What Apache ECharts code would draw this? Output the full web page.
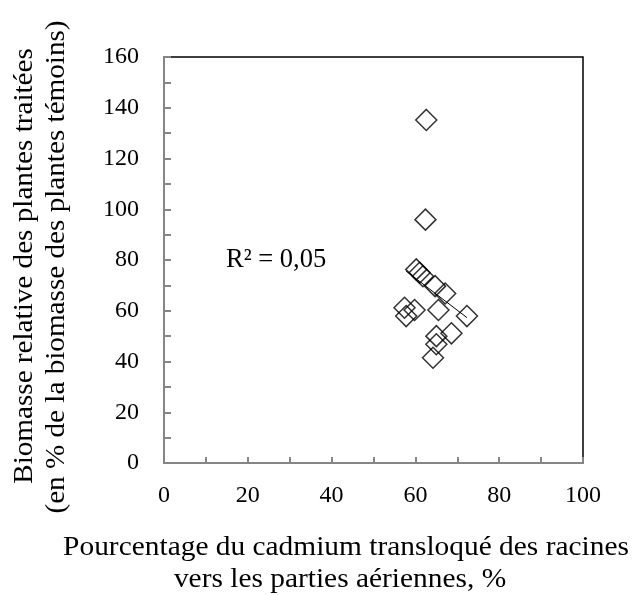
<!DOCTYPE html>
<html>
<head>
<meta charset="utf-8">
<script src="https://cdn.jsdelivr.net/npm/echarts@6/dist/echarts.min.js"></script>
<style>
html, body {margin: 0; padding: 0; background: #fff;}
#chart {width: 642px; height: 595px;}
</style>
</head>
<body>
<div id="chart"></div>
<script>
// pourcentage de Cd transloqué (x) et biomasse relative (y)
var pct_cd = [62.6, 62.4, 60.2, 61.0, 61.8, 64.7, 67.1, 57.4, 57.8, 59.8, 65.5, 72.3, 65.0, 68.6, 65.0, 64.2];
var biomasse = [135.2, 95.9, 76.3, 75.0, 73.6, 69.7, 66.8, 61.2, 57.9, 60.3, 60.3, 57.9, 50.0, 51.1, 46.8, 41.5];
var trend_x = [57.8, 72.3];
var trend_y = [75.6, 57.3];
var r2_label = "R² = 0,05";

var font = "'Liberation Serif', 'Times New Roman', serif";

var points = pct_cd.map(function(x, i){ return [x, biomasse[i]]; });
var trend = trend_x.map(function(x, i){ return [x, trend_y[i]]; });

var myChart = echarts.init(document.getElementById('chart'));

var options = {
	animation: false,
	backgroundColor: '#fff',
	grid: {left: 164, right: 59, top: 57, bottom: 132, show: true, borderColor: '#000', borderWidth: 1.5},
	xAxis: {
		type: 'value', min: 0, max: 100, interval: 10,
		axisLine: {lineStyle: {color: '#868686', width: 2}},
		axisTick: {inside: true, length: 6, lineStyle: {color: '#868686', width: 2}},
		splitLine: {show: false},
		axisLabel: {
			color: '#000', fontFamily: font, fontSize: 24, margin: 21,
			formatter: function(v){ return v % 20 === 0 ? v : ''; }
		}
	},
	yAxis: {
		type: 'value', min: 0, max: 160, interval: 10,
		axisLine: {lineStyle: {color: '#868686', width: 2}},
		axisTick: {inside: true, length: 7, lineStyle: {color: '#868686', width: 2}},
		splitLine: {show: false},
		axisLabel: {
			color: '#000', fontFamily: font, fontSize: 24, margin: 25,
			formatter: function(v){ return v % 20 === 0 ? v : ''; }
		}
	},
	graphic: [
		{type: 'text', x: 226, y: 260, style: {text: r2_label, font: '26.5px ' + font, fill: '#000', verticalAlign: 'middle'}},
		{type: 'text', x: 25, y: 266, rotation: Math.PI / 2, scaleX: 1.08, style: {text: 'Biomasse relative des plantes traitées', font: '27px ' + font, fill: '#000', align: 'center', verticalAlign: 'middle'}},
		{type: 'text', x: 57, y: 267, rotation: Math.PI / 2, scaleX: 1.08, style: {text: '(en % de la biomasse des plantes témoins)', font: '27px ' + font, fill: '#000', align: 'center', verticalAlign: 'middle'}},
		{type: 'text', x: 346, y: 548, scaleX: 1.05, style: {text: 'Pourcentage du cadmium transloqué des racines', font: '28px ' + font, fill: '#000', align: 'center', verticalAlign: 'middle'}},
		{type: 'text', x: 340, y: 580, scaleX: 1.05, style: {text: 'vers les parties aériennes, %', font: '28px ' + font, fill: '#000', align: 'center', verticalAlign: 'middle'}}
	],
	series: [
		{
			type: 'line', data: trend, showSymbol: false, silent: true,
			lineStyle: {color: '#000', width: 1}, z: 3
		},
		{
			type: 'scatter', data: points, symbol: 'diamond', symbolSize: 21,
			itemStyle: {color: 'rgba(255,255,255,0)', borderColor: '#000', borderWidth: 1.5}, z: 4
		}
	]
};

myChart.setOption((options), true);
</script>
</body>
</html>
